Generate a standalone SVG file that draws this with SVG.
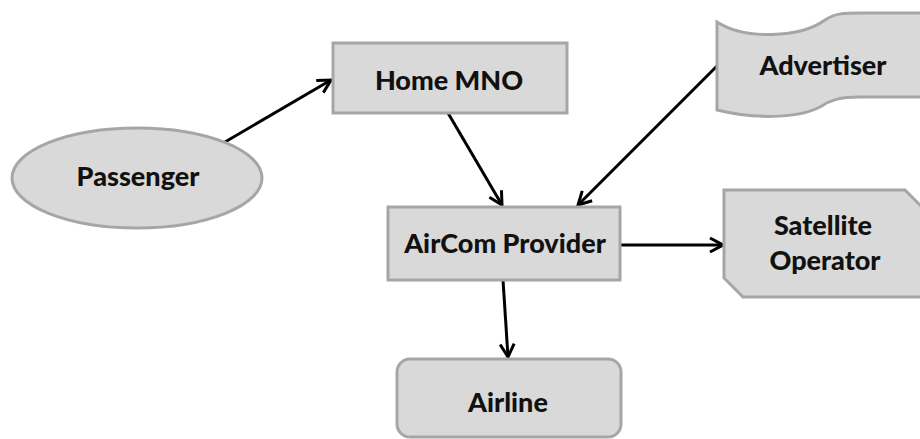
<svg xmlns="http://www.w3.org/2000/svg" width="920" height="439" viewBox="0 0 920 439">
<style>
.n{fill:#d9d9d9;stroke:#a6a6a6;stroke-width:3}
.t{font-family:Lato,"Liberation Sans",sans-serif;font-weight:900;font-size:27px;fill:#111;text-anchor:middle}
.c{stroke:#000;stroke-width:3;fill:none;marker-end:url(#ah)}
</style>
<defs>
<marker id="ah" markerUnits="userSpaceOnUse" viewBox="0 0 18 18" markerWidth="18" markerHeight="18" refX="16" refY="9" orient="auto">
<path d="M3,2 L16,9 L3,16" fill="none" stroke="#000" stroke-width="3"/>
</marker>
</defs>
<rect width="920" height="439" fill="#fff"/>
<g id="connectors">
<line class="c" x1="225" y1="142" x2="331" y2="80"/>
<line class="c" x1="448" y1="113" x2="502" y2="205"/>
<line class="c" x1="717" y1="66" x2="578" y2="205"/>
<line class="c" x1="620" y1="245" x2="723" y2="245"/>
<line class="c" x1="503" y1="280" x2="508" y2="357"/>
</g>
<g id="passenger">
<ellipse class="n" cx="137" cy="178" rx="125" ry="50"/>
<text class="t" x="138" y="186">Passenger</text>
</g>
<g id="home-mno">
<rect class="n" x="333" y="43" width="234" height="70"/>
<text class="t" x="449" y="90">Home MNO</text>
</g>
<g id="advertiser">
<path class="n" d="M717,22 C745,40 800,38 825,20 C835,13 845,13 860,13 L925,13 L925,97 L860,97 C840,97 830,100 820,107 C795,120 750,118 717,110 Z"/>
<text class="t" x="823" y="75">Advertiser</text>
</g>
<g id="aircom-provider">
<rect class="n" x="388" y="207" width="232" height="73"/>
<text class="t" x="505" y="253">AirCom Provider</text>
</g>
<g id="satellite-operator">
<path class="n" d="M724,190 L905,190 L925,210 L925,297 L743,297 L724,278 Z"/>
<text class="t" x="823" y="235">Satellite</text>
<text class="t" x="825" y="270">Operator</text>
</g>
<g id="airline">
<rect class="n" x="397" y="359" width="224" height="78" rx="13"/>
<text class="t" x="508" y="412">Airline</text>
</g>
</svg>
